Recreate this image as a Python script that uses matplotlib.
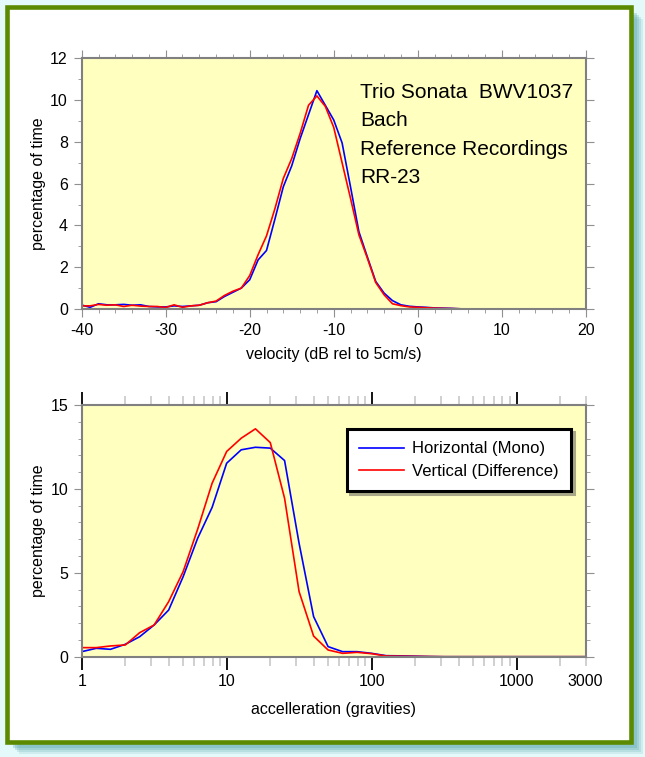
import numpy as np
import matplotlib
matplotlib.use("Agg")
import matplotlib.pyplot as plt
from matplotlib.patches import Rectangle
from matplotlib.ticker import FixedLocator, FixedFormatter

plt.rcParams['font.family'] = ['Liberation Sans', 'DejaVu Sans']
plt.rcParams['axes.unicode_minus'] = False

# --- velocity histogram (dB rel to 5 cm/s, 1 dB bins) ---
vel_db = list(range(-40, 21))
vel_horizontal = [0.19, 0.08, 0.25, 0.2, 0.2, 0.22, 0.18, 0.2, 0.12, 0.1,
                  0.1, 0.15, 0.12, 0.15, 0.18, 0.3, 0.35, 0.6, 0.8, 1.0,
                  1.4, 2.35, 2.8, 4.3, 5.85, 6.85, 8.15, 9.3, 10.45, 9.75,
                  9.05, 7.95, 5.85, 3.7, 2.5, 1.32, 0.76, 0.4, 0.2, 0.13,
                  0.1, 0.08, 0.05, 0.04, 0.03, 0.01] + [0.0] * 15
vel_vertical = [0.15, 0.15, 0.22, 0.18, 0.2, 0.12, 0.18, 0.14, 0.12, 0.12,
                0.07, 0.2, 0.08, 0.15, 0.18, 0.3, 0.38, 0.65, 0.85, 1.0,
                1.6, 2.6, 3.5, 4.8, 6.25, 7.2, 8.4, 9.75, 10.2, 9.7,
                8.7, 7.0, 5.3, 3.55, 2.44, 1.27, 0.68, 0.25, 0.16, 0.1,
                0.08, 0.06, 0.04, 0.03, 0.02, 0.01] + [0.0] * 15

# --- acceleration histogram (gravities, 10 bins per decade) ---
acc_g = [1, 1.26, 1.58, 2, 2.51, 3.16, 3.98, 5.01, 6.31, 7.94,
         10, 12.6, 15.8, 20, 25.1, 31.6, 39.8, 50.1, 63.1, 79.4,
         100, 126, 158, 200, 251, 316, 398, 501, 631, 794,
         1000, 1259, 1585, 1995, 2512, 3162]
acc_horizontal = [0.3, 0.5, 0.44, 0.74, 1.19, 1.89, 2.78, 4.77, 7.06, 8.9,
                  11.53, 12.33, 12.48, 12.43, 11.69, 6.76, 2.39, 0.6, 0.3, 0.3,
                  0.2, 0.06, 0.05, 0.03, 0.01] + [0.0] * 11
acc_vertical = [0.54, 0.54, 0.64, 0.7, 1.43, 1.89, 3.28, 5.07, 7.6, 10.34,
                12.23, 13.02, 13.58, 12.76, 9.44, 3.88, 1.23, 0.4, 0.2, 0.26,
                0.18, 0.04, 0.03, 0.02, 0.01] + [0.0] * 11

title_lines = ["Trio Sonata  BWV1037", "Bach", "Reference Recordings", "RR-23"]
series_labels = ["Horizontal (Mono)", "Vertical (Difference)"]

W, H = 645, 757
fig = plt.figure(figsize=(W / 100, H / 100), dpi=100, facecolor='#e4fafa')


def px(x0, y0, x1, y1):
    # pixel box (top-left origin) -> figure fraction rect
    return [x0 / W, 1 - y1 / H, (x1 - x0) / W, (y1 - y0) / H]


# soft cyan drop shadow + green frame
for off, a in [(12, 0.15), (10, 0.2), (8, 0.25), (6, 0.3)]:
    r = px(7 + off, 7 + off, 631 + off, 742 + off)
    fig.add_artist(Rectangle((r[0], r[1]), r[2], r[3], transform=fig.transFigure,
                             facecolor='#5aa8b0', edgecolor='none', alpha=a, zorder=-3))
r = px(7, 7, 631, 742)
fig.add_artist(Rectangle((r[0], r[1]), r[2], r[3], transform=fig.transFigure,
                         facecolor='white', edgecolor='#5b8a00', linewidth=3.3, zorder=-2))

bg = '#ffffc0'
ax1 = fig.add_axes(px(81.7, 58.3, 585.7, 309))
ax2 = fig.add_axes(px(81.7, 405, 585.7, 656.7))

for ax in (ax1, ax2):
    ax.set_facecolor(bg)
    for s in ax.spines.values():
        s.set_color('#808080')
        s.set_linewidth(1.5)
    ax.tick_params(which='both', direction='out', top=True, right=True,
                   labelsize=11.5, pad=4)

# top panel: velocity
ax1.plot(vel_db, vel_horizontal, color='#0000ff', lw=1.2)
ax1.plot(vel_db, vel_vertical, color='#ff0000', lw=1.2)
ax1.set_xlim(-40, 20)
ax1.set_ylim(0, 12)
ax1.set_xticks(np.arange(-40, 21, 10))
ax1.set_xticks(np.arange(-40, 21, 2), minor=True)
ax1.set_yticks(np.arange(0, 13, 2))
ax1.set_yticks(np.arange(0, 13, 1), minor=True)
ax1.tick_params(which='major', length=6, color='#909090')
ax1.tick_params(which='minor', length=3.1, color='#909090')
ax1.set_xlabel("velocity (dB rel to 5cm/s)", fontsize=11.5)
ax1.set_ylabel("percentage of time", fontsize=11.5)
ax1.xaxis.set_label_coords(0.5, -0.15)
ax1.yaxis.set_label_coords(-0.071, 0.5)
for i, line in enumerate(title_lines):
    ax1.text(0.552, 0.864 - i * 0.113, line, transform=ax1.transAxes,
             fontsize=15, ha='left', va='center')

# bottom panel: acceleration
ax2.plot(acc_g, acc_horizontal, color='#0000ff', lw=1.2, label=series_labels[0])
ax2.plot(acc_g, acc_vertical, color='#ff0000', lw=1.2, label=series_labels[1])
ax2.set_xscale('log')
ax2.set_xlim(1, 3000)
ax2.set_ylim(0, 15)
ax2.xaxis.set_major_locator(FixedLocator([1, 10, 100, 1000]))
ax2.xaxis.set_major_formatter(FixedFormatter(['1', '10', '100', '1000']))
minors = [m * 10 ** d for d in range(4) for m in range(2, 10) if m * 10 ** d <= 3000]
ax2.xaxis.set_minor_locator(FixedLocator(minors))
ax2.xaxis.set_minor_formatter(FixedFormatter(['3000' if v == 3000 else '' for v in minors]))
ax2.set_yticks([0, 5, 10, 15])
ax2.set_yticks(np.arange(0, 16, 1), minor=True)
ax2.tick_params(axis='x', which='major', length=9.4, width=1.3, color='black', pad=3)
ax2.tick_params(axis='x', which='minor', length=6.5, width=1.2, color='#c8c8c8',
                labelsize=11.5, pad=5.9)
ax2.tick_params(axis='y', which='major', length=5.8, color='#909090')
ax2.tick_params(axis='y', which='minor', length=3, color='#909090')
ax2.set_xlabel("accelleration (gravities)", fontsize=11.5)
ax2.set_ylabel("percentage of time", fontsize=11.5)
ax2.xaxis.set_label_coords(0.5, -0.18)
ax2.yaxis.set_label_coords(-0.071, 0.5)

leg = ax2.legend(loc='upper left', bbox_to_anchor=(0.526, 0.905), borderaxespad=0,
                 fontsize=12, handlelength=2.7, handletextpad=0.45, labelspacing=0.45,
                 borderpad=0.75, fancybox=False, framealpha=1,
                 shadow={'color': '#a8a888', 'alpha': 1})
leg.get_frame().set_edgecolor('black')
leg.get_frame().set_linewidth(2.2)

fig.savefig("out.png", dpi=100, facecolor=fig.get_facecolor())
